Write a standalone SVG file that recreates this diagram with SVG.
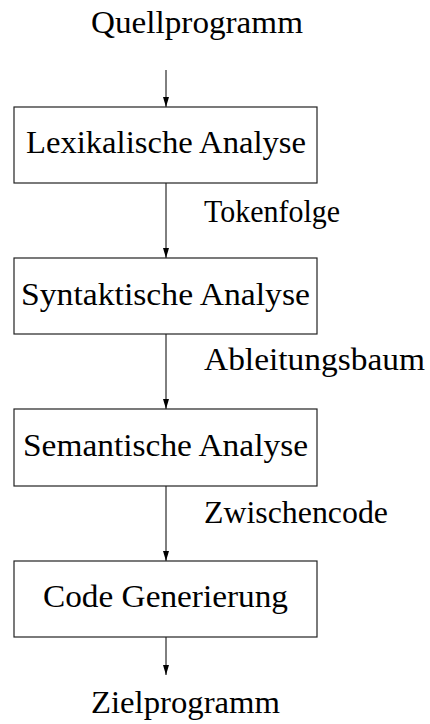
<svg xmlns="http://www.w3.org/2000/svg" width="430" height="724" viewBox="0 0 430 724">
  <style>
    .box { fill: #fff; stroke: #222; stroke-width: 1.2; }
    .lbl { font-family: "Liberation Serif", "DejaVu Serif", serif; font-size: 31px; fill: #000; }
    .edge { stroke: #000; stroke-width: 1; fill: none; marker-end: url(#arrow); }
  </style>
  <defs>
    <marker id="arrow" markerUnits="userSpaceOnUse" viewBox="0 0 10 6" markerWidth="10" markerHeight="6" refX="10" refY="3" orient="auto">
      <path d="M0,0 L10,3 L0,6 Z" fill="#000"/>
    </marker>
  </defs>
  <rect width="430" height="724" fill="#fff"/>

  <g id="connectors">
    <line class="edge" x1="166" y1="70" x2="166" y2="107"/>
    <line class="edge" x1="166" y1="183" x2="166" y2="258"/>
    <line class="edge" x1="166" y1="334" x2="166" y2="409"/>
    <line class="edge" x1="166" y1="486" x2="166" y2="561"/>
    <line class="edge" x1="166" y1="637" x2="166" y2="675"/>
    <text class="lbl" font-family="Liberation Serif, serif" x="204" y="222" textLength="136" lengthAdjust="spacingAndGlyphs">Tokenfolge</text>
    <text class="lbl" font-family="Liberation Serif, serif" x="204" y="370" textLength="221" lengthAdjust="spacingAndGlyphs">Ableitungsbaum</text>
    <text class="lbl" font-family="Liberation Serif, serif" x="204" y="523" textLength="184" lengthAdjust="spacingAndGlyphs">Zwischencode</text>
  </g>

  <g id="source">
    <text class="lbl" x="91" y="33" textLength="212" lengthAdjust="spacingAndGlyphs">Quellprogramm</text>
  </g>
  <g id="lexer">
    <rect class="box" x="14" y="107" width="303" height="76"/>
    <text class="lbl" x="26" y="153" textLength="280" lengthAdjust="spacingAndGlyphs">Lexikalische Analyse</text>
  </g>
  <g id="parser">
    <rect class="box" x="14" y="258" width="303" height="76"/>
    <text class="lbl" x="21" y="305" textLength="289" lengthAdjust="spacingAndGlyphs">Syntaktische Analyse</text>
  </g>
  <g id="semantic">
    <rect class="box" x="14" y="409" width="303" height="77"/>
    <text class="lbl" x="23" y="456" textLength="285" lengthAdjust="spacingAndGlyphs">Semantische Analyse</text>
  </g>
  <g id="codegen">
    <rect class="box" x="14" y="561" width="303" height="76"/>
    <text class="lbl" x="43" y="607" textLength="245" lengthAdjust="spacingAndGlyphs">Code Generierung</text>
  </g>
  <g id="target">
    <text class="lbl" x="91" y="713" textLength="189" lengthAdjust="spacingAndGlyphs">Zielprogramm</text>
  </g>
</svg>
